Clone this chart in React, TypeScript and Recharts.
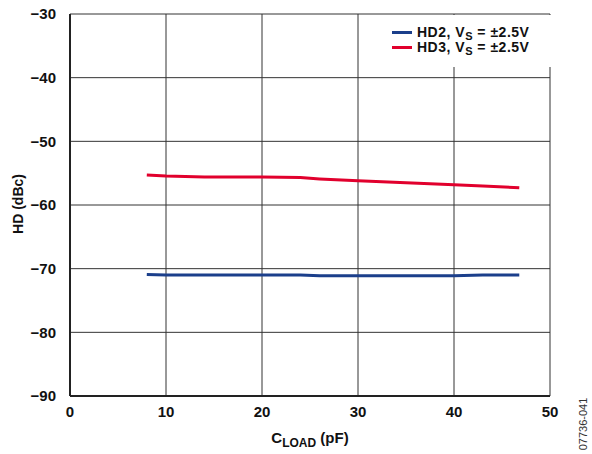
import React from 'react';
import { LineChart, Line, XAxis, YAxis, CartesianGrid, Label } from 'recharts';

const cLoad = [8, 10, 14, 20, 24, 26, 30, 35, 40, 43, 46.8];
const hd2 = [-70.9, -71.0, -71.0, -71.0, -71.0, -71.1, -71.1, -71.1, -71.1, -71.0, -71.0];
const hd3 = [-55.3, -55.45, -55.6, -55.6, -55.7, -55.9, -56.2, -56.5, -56.8, -57.0, -57.3];
const xTicks = [0, 10, 20, 30, 40, 50];
const yTicks = [-90, -80, -70, -60, -50, -40, -30];
const seriesNames = ['HD2', 'HD3'];

const chartData = cLoad.map((c, i) => ({ c, hd2: hd2[i], hd3: hd3[i] }));

const FONT = '"Liberation Sans", Arial, sans-serif';
const BLUE = '#1b3f8b';
const RED = '#e1002d';
const colors = [BLUE, RED];

const fmt = (v: number) => (v < 0 ? `\u2212${Math.abs(v)}` : `${v}`);

const LegendBox = () => (
  <div
    style={{
      position: 'absolute',
      left: 386,
      top: 15,
      width: 162,
      background: '#fff',
      fontFamily: FONT,
      fontWeight: 'bold',
      fontSize: 14,
      letterSpacing: 0.5,
      color: '#111',
      padding: '10px 0 12px 6px',
      lineHeight: '15px',
    }}
  >
    {seriesNames.map((name, i) => (
      <div key={name} style={{ display: 'flex', alignItems: 'center', whiteSpace: 'nowrap' }}>
        <span style={{ display: 'inline-block', width: 20, height: 3, background: colors[i], marginRight: 5 }} />
        <span>
          {name}, V<sub style={{ fontSize: 11, verticalAlign: -3, lineHeight: 0 }}>S</sub> = ±2.5V
        </span>
      </div>
    ))}
  </div>
);

export default function App() {
  return (
    <div style={{ position: 'absolute', left: 0, top: 0, width: 592, height: 454 }}>
      <LineChart width={592} height={454} data={chartData} margin={{ top: 14, right: 42, bottom: 0, left: 0 }}>
        <CartesianGrid stroke="#333" strokeWidth={1} />
        <XAxis
          dataKey="c"
          type="number"
          domain={[0, 50]}
          ticks={xTicks}
          height={58}
          tickLine={false}
          axisLine={{ stroke: '#222', strokeWidth: 2 }}
          tick={{ fill: '#111', fontSize: 15, fontWeight: 'bold', fontFamily: FONT }}
          tickMargin={4}
        >
          <Label
            content={() => (
              <text x={310} y={443} textAnchor="middle" fill="#111" fontFamily={FONT} fontWeight="bold" fontSize={15}>
                C<tspan fontSize={12} dy={4}>LOAD</tspan>
                <tspan dy={-4}> (pF)</tspan>
              </text>
            )}
          />
        </XAxis>
        <YAxis
          type="number"
          domain={[-90, -30]}
          ticks={yTicks}
          width={70}
          tickLine={false}
          axisLine={{ stroke: '#222', strokeWidth: 2 }}
          tickFormatter={fmt}
          tick={{ fill: '#111', fontSize: 15, fontWeight: 'bold', fontFamily: FONT }}
          tickMargin={8}
        >
          <Label
            content={() => (
              <text
                x={23}
                y={204}
                transform="rotate(-90 23 204)"
                textAnchor="middle"
                fill="#111"
                fontFamily={FONT}
                fontWeight="bold"
                fontSize={14}
              >
                HD (dBc)
              </text>
            )}
          />
        </YAxis>
        <Line type="linear" dataKey="hd2" stroke={BLUE} strokeWidth={3} dot={false} isAnimationActive={false} />
        <Line type="linear" dataKey="hd3" stroke={RED} strokeWidth={3} dot={false} isAnimationActive={false} />
        <text
          x={587}
          y={424}
          transform="rotate(-90 587 424)"
          textAnchor="middle"
          fill="#333"
          fontFamily={FONT}
          fontSize={11}
        >
          07736-041
        </text>
      </LineChart>
      <LegendBox />
    </div>
  );
}
